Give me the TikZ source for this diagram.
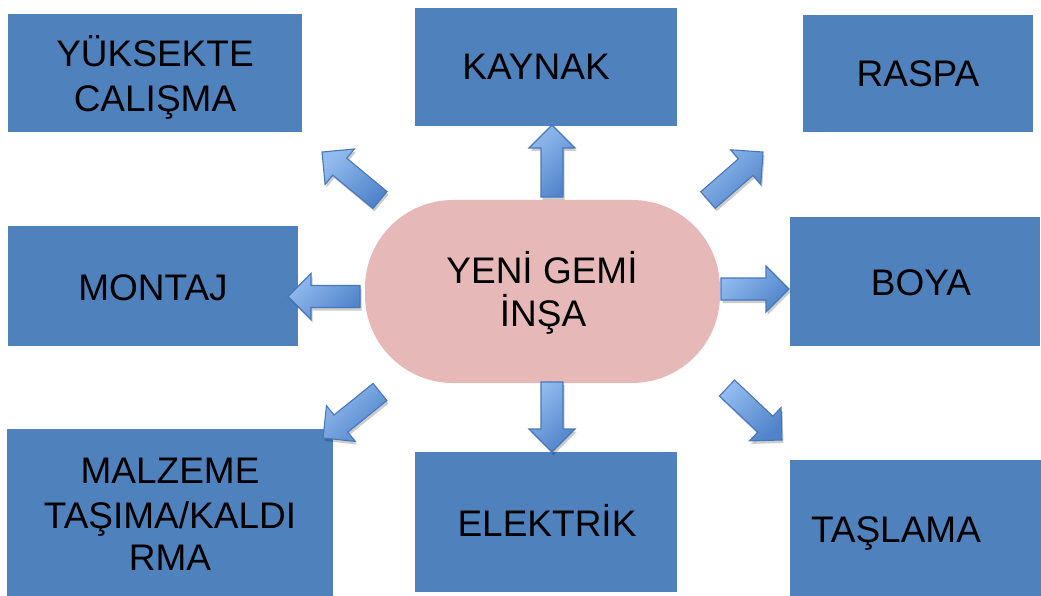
\documentclass[tikz,border=0pt]{standalone}
\usepackage{fontspec}
\setmainfont{Liberation Sans}
\usetikzlibrary{calc}
\definecolor{boxblue}{HTML}{4F81BD}
\definecolor{pinkfill}{HTML}{E6B9B8}
\definecolor{arrlight}{HTML}{92BBEE}
\definecolor{arrdark}{HTML}{5083CA}
\definecolor{arredge}{HTML}{4677BA}
\tikzset{
  box/.style={fill=boxblue, draw=none, inner sep=0pt},
  lbl/.style={font=\fontsize{37}{44}\selectfont, inner sep=0pt, outer sep=0pt, anchor=base, text=black},
  arrshadow/.style={fill=black, opacity=0.2},
  arrbody/.style={top color=arrlight, bottom color=arrdark, shading angle=45, draw=arredge, line width=1.1pt, line join=miter},
}
\newcommand\blockarrow[2]{%
  \path let \p1=($(#2)-(#1)$), \n1={atan2(\y1,\x1)}, \n2={veclen(\x1,\y1)} in
    \pgfextra{\xdef\arrang{\n1}\xdef\arrlen{\n2}};
  \begin{scope}[shift={(#1)}, xshift=1.5pt, yshift=-3pt, rotate=\arrang]
    \fill[arrshadow] (0,-11) -- (\arrlen-23,-11) -- (\arrlen-23,-23) -- (\arrlen,0)
      -- (\arrlen-23,23) -- (\arrlen-23,11) -- (0,11) -- cycle;
  \end{scope}
  \begin{scope}[shift={(#1)}, rotate=\arrang]
    \shade[arrbody] (0,-11) -- (\arrlen-23,-11) -- (\arrlen-23,-23) -- (\arrlen,0)
      -- (\arrlen-23,23) -- (\arrlen-23,11) -- (0,11) -- cycle;
  \end{scope}}
\begin{document}
\begin{tikzpicture}[x=1pt, y=-1pt]
\useasboundingbox (0,0) rectangle (1041,596);
% boxes
\node[box, minimum width=294pt, minimum height=118pt] (yuk) at (155,73) {};
\node[box, minimum width=262pt, minimum height=118pt] (kay) at (546,67) {};
\node[box, minimum width=230pt, minimum height=117pt] (ras) at (918,73.5) {};
\node[box, minimum width=290pt, minimum height=120pt] (mon) at (153,286) {};
\node[box, minimum width=250pt, minimum height=129pt] (boy) at (915,281.5) {};
\node[box, minimum width=326pt, minimum height=167pt] (mal) at (170,512.5) {};
\node[box, minimum width=262pt, minimum height=140pt] (ele) at (546,522) {};
\node[box, minimum width=251pt, minimum height=136pt] (tas) at (915.5,528) {};
% centre
\node[fill=pinkfill, draw=none, rounded corners=88pt, minimum width=355pt, minimum height=183pt, inner sep=0pt] (core) at (542.5,291.5) {};
% labels
\node[lbl] (yuk1) at (155,67) {YÜKSEKTE};
\node[lbl] (yuk2) at (155,112) {CALIŞMA};
\node[lbl] (kayt) at (536,80) {KAYNAK};
\node[lbl] (rast) at (918,87) {RASPA};
\node[lbl] (mont) at (153,300) {MONTAJ};
\node[lbl] (boyt) at (921,295) {BOYA};
\node[lbl] (elet) at (547,536) {ELEKTRİK};
\node[lbl, anchor=base west] (tast) at (811,542) {TAŞLAMA};
\node[lbl] (mal1) at (170,483) {MALZEME};
\node[lbl] (mal2) at (170,528) {TAŞIMA/KALDI};
\node[lbl] (mal3) at (170,570) {RMA};
\node[lbl] (core1) at (542,283) {YENİ GEMİ};
\node[lbl] (core2) at (543,326) {İNŞA};
% arrow end points
\coordinate (a1t) at (380,200); \coordinate (a1h) at (322,152);
\coordinate (a2t) at (552,197); \coordinate (a2h) at (552,125);
\coordinate (a3t) at (708,200); \coordinate (a3h) at (763,152);
\coordinate (a4t) at (721,289); \coordinate (a4h) at (789,289);
\coordinate (a5t) at (360,296.5); \coordinate (a5h) at (288,296.5);
\coordinate (a6t) at (380,392); \coordinate (a6h) at (323,438);
\coordinate (a7t) at (552,382); \coordinate (a7h) at (552,452);
\coordinate (a8t) at (727,388); \coordinate (a8h) at (782,440);
\blockarrow{a1t}{a1h}
\blockarrow{a2t}{a2h}
\blockarrow{a3t}{a3h}
\blockarrow{a4t}{a4h}
\blockarrow{a5t}{a5h}
\blockarrow{a6t}{a6h}
\blockarrow{a7t}{a7h}
\blockarrow{a8t}{a8h}
\end{tikzpicture}
\end{document}
